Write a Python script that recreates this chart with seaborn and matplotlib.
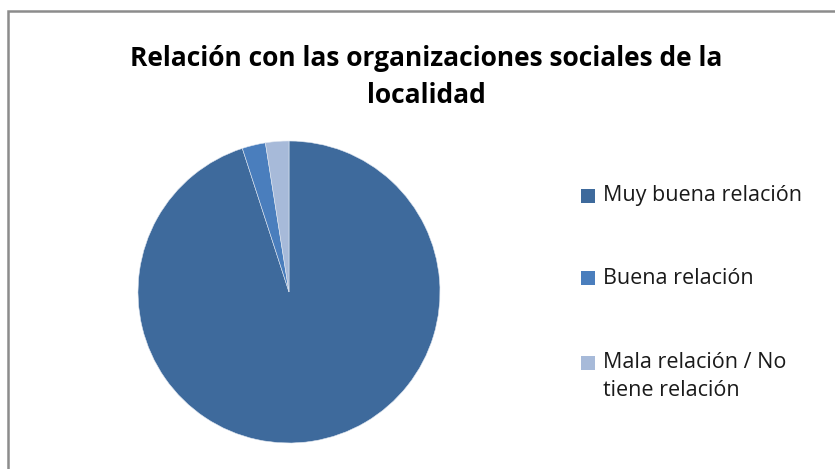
import matplotlib
matplotlib.use("Agg")
import matplotlib.pyplot as plt
from matplotlib.patches import Rectangle
import seaborn as sns

categories = ["Muy buena relación", "Buena relación", "Mala relación / No\ntiene relación"]
values = [38, 1, 1]
colors = ["#3E6A9C", "#4A7EBD", "#A7BAD9"]
title = "Relación con las organizaciones sociales de la\nlocalidad"

sns.set_theme(style="white")
plt.rcParams["font.family"] = ["Open Sans", "DejaVu Sans"]

W, H = 835, 469
fig = plt.figure(figsize=(W / 100, H / 100), dpi=100)
fig.patch.set_facecolor("white")

# outer chart-area frame (left and top edges visible)
fig.add_artist(Rectangle((7.5 / W, -0.05), 1.2, (H - 11) / H + 0.05,
                         transform=fig.transFigure, fill=False,
                         edgecolor="#8C8C8C", linewidth=1.8))

cx, cy, r = 289, 292, 151
ax = fig.add_axes([(cx - r) / W, (H - cy - r) / H, 2 * r / W, 2 * r / H])
ax.pie(values, colors=colors, startangle=90, counterclock=False,
       radius=1.0, wedgeprops=dict(linewidth=0.4, edgecolor="#dfe6f0"))
ax.set_xlim(-1, 1)
ax.set_ylim(-1, 1)
ax.set_aspect("equal")
ax.axis("off")

fig.text(426 / W, 1 - 77 / H, title, ha="center", va="center",
         fontsize=19, fontweight="bold", color="#000000", linespacing=1.45)

# legend entries: marker square + label
rows = [196, 278, 363]
for lab, col, y in zip(categories, colors, rows):
    fig.add_artist(Rectangle((581 / W, 1 - (y + 7) / H), 14 / W, 14 / H,
                             transform=fig.transFigure, facecolor=col,
                             edgecolor="none"))
    if "\n" in lab:
        fig.text(603 / W, 1 - (y - 11) / H, lab, ha="left", va="top",
                 fontsize=15.5, color="#1a1a1a", linespacing=1.42)
    else:
        fig.text(603 / W, 1 - y / H, lab, ha="left", va="center",
                 fontsize=15.5, color="#1a1a1a")

fig.savefig("out.png", dpi=100, facecolor="white")
